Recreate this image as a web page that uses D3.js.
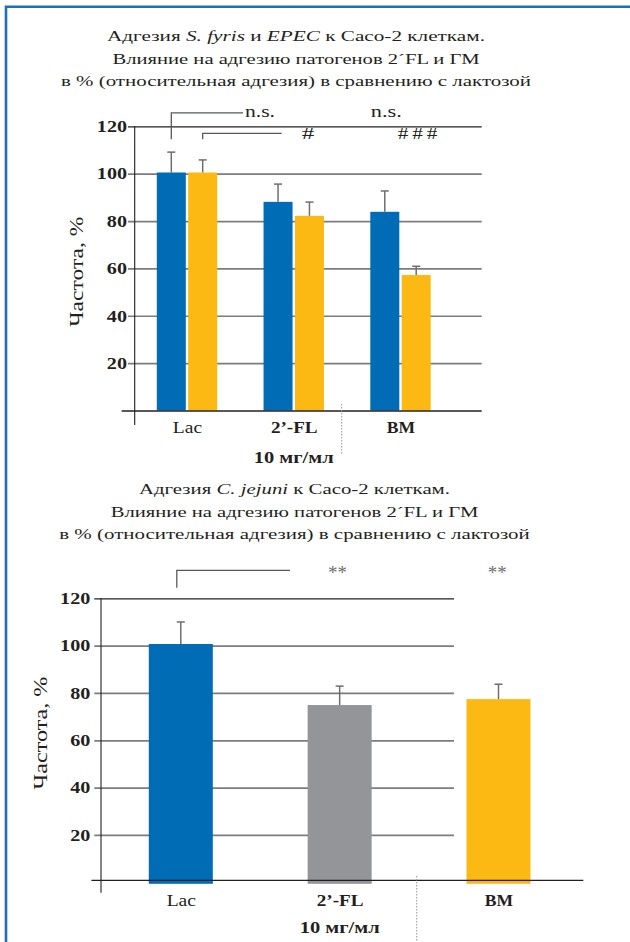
<!DOCTYPE html>
<html><head><meta charset="utf-8">
<script src="https://cdn.jsdelivr.net/npm/d3@7"></script>
<style>html,body{margin:0;padding:0;background:#fff;} svg{display:block;font-family:"Liberation Serif","Times New Roman",serif;}</style>
</head><body><svg id="c" width="630" height="942"></svg>
<script>
// ---------- DATA ----------
const categories1 = ["Lac", "2’-FL", "BM"];
const blueValues1 = [100.5, 88.1, 83.9];
const blueErrors1 = [8.6, 7.5, 8.8];
const orangeValues1 = [100.5, 82.2, 57.2];
const orangeErrors1 = [5.3, 5.8, 3.7];

const categories2 = ["Lac", "2’-FL", "BM"];
const values2 = [100.7, 74.9, 77.4];
const errors2 = [9.3, 8.0, 6.3];

const yTicks = [20, 40, 60, 80, 100, 120];
const yLabel = "Частота, %";
const unitLabel = "10 мг/мл";
const boldCategories = ["2’-FL", "BM"];

const title1 = [
  [["Адгезия ", false], ["S. fyris", true], [" и ", false], ["EPEC", true], [" к Caco-2 клеткам.", false]],
  [["Влияние на адгезию патогенов 2´FL и ГМ", false]],
  [["в % (относительная адгезия) в сравнению с лактозой", false]]
];
const title2 = [
  [["Адгезия ", false], ["C. jejuni", true], [" к Caco-2 клеткам.", false]],
  [["Влияние на адгезию патогенов 2´FL и ГМ", false]],
  [["в % (относительная адгезия) в сравнению с лактозой", false]]
];
const signif1 = ["n.s.", "#", "n.s.", "###"];
const signif2 = ["**", "**"];

// ---------- STYLE ----------
const BLUE = "#006cb5", ORANGE = "#fdb913", GREY = "#939598";
const DARK = "#231f20", GRID = "#7b7c7f", ERR = "#6d6e71";
const STRETCH = 1.22; // the original serif face is wider than Liberation Serif

const svg = d3.select("#c");
svg.append("rect").attr("width", 630).attr("height", 942).attr("fill", "#fff");

// frame
svg.append("path").attr("d", "M6,942V6.7H630").attr("fill", "none")
  .attr("stroke", "#1f6fb8").attr("stroke-width", 2.6);

function widen(sel, target) {
  sel.each(function () {
    const n = this;
    const w = target != null ? target : n.getComputedTextLength() * STRETCH;
    d3.select(n).attr("textLength", w).attr("lengthAdjust", "spacingAndGlyphs");
  });
}

function drawTitle(lines, cx, baselines, widths) {
  lines.forEach((parts, i) => {
    const t = svg.append("text").attr("x", cx).attr("y", baselines[i])
      .attr("text-anchor", "middle").attr("fill", DARK).attr("font-size", 15.5);
    parts.forEach(([s, it]) => t.append("tspan").text(s).attr("font-style", it ? "italic" : "normal"));
    widen(t, widths[i]);
  });
}

function drawGridAxis(g, y, left, right, padding) {
  const ax = g.append("g").attr("transform", `translate(${right},0)`)
    .call(d3.axisLeft(y).tickValues(yTicks).tickSize(right - left).tickPadding(padding));
  ax.select(".domain").remove();
  ax.selectAll(".tick line")
    .attr("stroke", d => d === 120 ? DARK : GRID)
    .attr("stroke-width", d => d === 120 ? 1.3 : 1.7);
  ax.selectAll(".tick text")
    .attr("font-family", "Liberation Serif").attr("font-size", 16.5).attr("font-weight", "bold")
    .attr("fill", DARK);
  widen(ax.selectAll(".tick text"));
}

function drawCatAxis(g, x, yBase, yUnit, widths) {
  const ax = g.append("g").attr("transform", `translate(0,${yBase})`)
    .call(d3.axisBottom(x).tickSize(0).tickPadding(0));
  ax.select(".domain").remove();
  ax.selectAll(".tick text").attr("y", 0).attr("dy", 0)
    .attr("font-family", "Liberation Serif").attr("font-size", 16.5)
    .attr("font-weight", d => boldCategories.includes(d) ? "bold" : "normal")
    .attr("fill", DARK)
    .each(function (d, i) { widen(d3.select(this), widths[i]); });
  const u = g.append("text").attr("x", x(x.domain()[1])).attr("y", yUnit)
    .attr("text-anchor", "middle").attr("font-size", 16.5).attr("font-weight", "bold")
    .attr("fill", DARK).text(unitLabel);
  widen(u, 80);
}

function errorBar(g, cx, y, v, e) {
  g.append("line").attr("x1", cx).attr("x2", cx).attr("y1", y(v)).attr("y2", y(v + e))
    .attr("stroke", ERR).attr("stroke-width", 1.5);
  g.append("line").attr("x1", cx - 4).attr("x2", cx + 4).attr("y1", y(v + e)).attr("y2", y(v + e))
    .attr("stroke", ERR).attr("stroke-width", 1.5);
}

function yTitle(g, x, yc, len) {
  const t = g.append("text").attr("transform", `translate(${x},${yc}) rotate(-90)`)
    .attr("text-anchor", "middle").attr("dy", "0.35em")
    .attr("font-size", 19).attr("fill", DARK).text(yLabel);
  widen(t, len);
}

const catWidths = [29.3, 46.7, 28.3];

// ================= CHART 1 =================
drawTitle(title1, 296, [41, 63.5, 86], [378, 367, 470]);
{
  const g = svg.append("g");
  const y = d3.scaleLinear([0, 120], [410.5, 126.3]);
  const x = d3.scalePoint(categories1, [187, 400.5]);
  const bw = 29, gap = 1.2;

  drawGridAxis(g, y, 128, 481.7, 1);
  g.selectAll(".b1").data(categories1).join("rect")
    .attr("x", d => x(d) - gap - bw).attr("width", bw)
    .attr("y", (d, i) => y(blueValues1[i])).attr("height", (d, i) => y(0) - y(blueValues1[i]))
    .attr("fill", BLUE);
  g.selectAll(".o1").data(categories1).join("rect")
    .attr("x", d => x(d) + gap).attr("width", bw)
    .attr("y", (d, i) => y(orangeValues1[i])).attr("height", (d, i) => y(0) - y(orangeValues1[i]))
    .attr("fill", ORANGE);
  categories1.forEach((c, i) => {
    errorBar(g, x(c) - gap - bw / 2, y, blueValues1[i], blueErrors1[i]);
    errorBar(g, x(c) + gap + bw / 2, y, orangeValues1[i], orangeErrors1[i]);
  });
  g.append("line").attr("x1", 121.7).attr("x2", 481.7).attr("y1", y(0) + 0.5).attr("y2", y(0) + 0.5)
    .attr("stroke", DARK).attr("stroke-width", 1.3);
  g.append("line").attr("x1", 134.7).attr("x2", 134.7).attr("y1", y(120)).attr("y2", 425)
    .attr("stroke", DARK).attr("stroke-width", 1.1);
  drawCatAxis(g, x, 433, 462.7, catWidths);
  g.append("line").attr("x1", 341.7).attr("x2", 341.7).attr("y1", 404).attr("y2", 455)
    .attr("stroke", GREY).attr("stroke-width", 1).attr("stroke-dasharray", "1.5,1.5");
  yTitle(g, 76.7, 271.7, 110);
  const bx = x(categories1[0]) - gap - bw / 2, ox = x(categories1[0]) + gap + bw / 2;
  g.append("path").attr("d", `M${bx},${y(114.5)}V${y(125.7)}H243`)
    .attr("fill", "none").attr("stroke", "#58595b").attr("stroke-width", 1.3);
  g.append("path").attr("d", `M${ox},${y(114.5)}V${y(117)}H281.7`)
    .attr("fill", "none").attr("stroke", "#58595b").attr("stroke-width", 1.3);
  const sx = [260, x(categories1[1]) + gap + bw / 2 - 1.5, x(categories1[2]) - gap - bw / 2 + 1.5, x(categories1[2]) + gap + bw / 2 + 3.3];
  const sy = [117, 139, 117, 139];
  const sw = [30, 12.5, 31, 43.7];
  signif1.forEach((s, i) => {
    const t = g.append("text").attr("x", sx[i]).attr("y", sy[i])
      .attr("text-anchor", "middle").attr("font-size", 16).attr("fill", DARK)
      .attr("letter-spacing", s === "###" ? 3 : 0).text(s);
    widen(t, sw[i]);
  });
}

// ================= CHART 2 =================
drawTitle(title2, 294.5, [494, 516.5, 539], [311, 367.5, 470.5]);
{
  const g = svg.append("g");
  const y = d3.scaleLinear([0, 120], [882.3, 598.3]);
  const x = d3.scalePoint(categories2, [180.8, 498.5]);
  const bw = 64;
  const colors = [BLUE, GREY, ORANGE];

  drawGridAxis(g, y, 94.3, 454, 4);
  g.selectAll(".b2").data(categories2).join("rect")
    .attr("x", d => x(d) - bw / 2).attr("width", bw)
    .attr("y", (d, i) => y(values2[i])).attr("height", (d, i) => y(0) - y(values2[i]) + 1.5)
    .attr("fill", (d, i) => colors[i]);
  categories2.forEach((c, i) => errorBar(g, x(c), y, values2[i], errors2[i]));
  g.append("line").attr("x1", 91.4).attr("x2", 583.3).attr("y1", y(0) - 2).attr("y2", y(0) - 2)
    .attr("stroke", DARK).attr("stroke-width", 1.3);
  g.append("line").attr("x1", 101).attr("x2", 101).attr("y1", y(120)).attr("y2", 892.7)
    .attr("stroke", DARK).attr("stroke-width", 1.1);
  drawCatAxis(g, x, 906, 932.7, catWidths);
  g.append("line").attr("x1", 416.7).attr("x2", 416.7).attr("y1", 876).attr("y2", 942)
    .attr("stroke", GREY).attr("stroke-width", 1).attr("stroke-dasharray", "1.5,1.5");
  yTitle(g, 40.7, 733, 113);
  const lx = x(categories2[0]) - 4;
  g.append("path").attr("d", `M${lx},${y(124.5)}V${y(131.8)}H290`)
    .attr("fill", "none").attr("stroke", "#58595b").attr("stroke-width", 1.3);
  const ax = [337.5, 497.3];
  signif2.forEach((s, i) => {
    const t = g.append("text").attr("x", ax[i]).attr("y", 578.5)
      .attr("text-anchor", "middle").attr("font-size", 18).attr("fill", "#6d6e71").text(s);
    widen(t, 19);
  });
}
</script></body></html>
